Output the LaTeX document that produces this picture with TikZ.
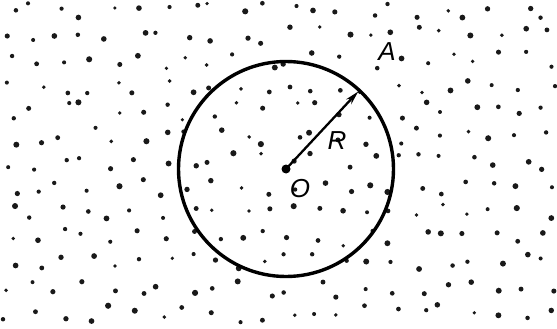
\documentclass[tikz,border=0pt]{standalone}
\usepackage{fontspec}
\setsansfont{Liberation Sans}
\usetikzlibrary{arrows.meta,positioning}
\tikzset{
  dot/.style={fill=black!90, draw=none},
  rim/.style={draw=black, line width=3.4pt},
  radius arrow/.style={-{Stealth[length=14pt,width=7pt]}, line width=2.3pt},
  label/.style={font=\fontsize{26}{28}\selectfont\sffamily\itshape, inner sep=1pt}
}

\begin{document}
\begin{tikzpicture}[x=1pt,y=-1pt]
  \useasboundingbox (0,0) rectangle (557,329);
  \pgfmathsetseed{11}
  % scattered points
  \foreach \i in {0,...,21}{
    \foreach \j in {0,...,12}{
      \pgfmathsetmacro{\px}{10+25.6*\i+9*rand}
      \pgfmathsetmacro{\py}{10+25.3*\j+9*rand}
      \pgfmathsetmacro{\pr}{1.8+1.3*rnd}
      \fill[dot] (\px,\py) circle (\pr pt);
    }
  }
  \coordinate (O) at (286,169);
  \draw[rim] (O) circle (107.5pt);
  \path (O) ++(47:106pt) coordinate (edge);
  \draw[radius arrow] (O) -- (edge);
  \fill (O) circle (4.5pt);
  \node[label] (labO) at (300,189) {O};
  \node[label] (labR) at (337,141) {R};
  \node[label] (labA) at (387,52) {A};
\end{tikzpicture}
\end{document}
